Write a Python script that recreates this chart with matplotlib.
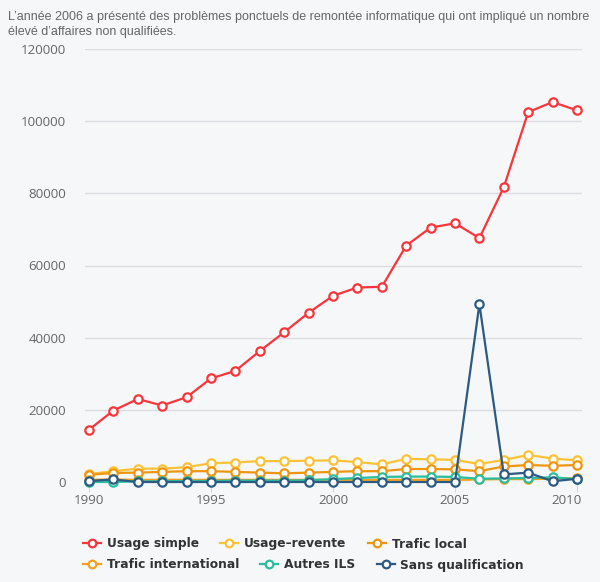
import matplotlib
matplotlib.use("Agg")
import matplotlib.pyplot as plt
from matplotlib.lines import Line2D
from matplotlib.font_manager import FontProperties
import matplotlib.transforms as mtransforms

years = list(range(1990, 2011))
usage_simple = [14500, 19800, 23000, 21200, 23500, 28700, 30800, 36300, 41500, 46900,
                51600, 53900, 54100, 65500, 70500, 71700, 67600, 81700, 102500, 105300, 103000]
usage_revente = [2200, 3000, 3700, 3700, 4100, 5200, 5400, 5800, 5800, 5900,
                 6000, 5500, 4900, 6400, 6300, 6100, 5000, 6100, 7500, 6500, 6000]
trafic_local = [2000, 2500, 2600, 2800, 3000, 3000, 2800, 2600, 2400, 2600,
                2800, 3000, 3000, 3600, 3600, 3500, 3000, 4300, 4700, 4500, 4700]
trafic_international = [600, 700, 600, 600, 600, 600, 600, 600, 600, 600,
                        600, 600, 600, 600, 600, 600, 700, 800, 800, 900, 1000]
autres_ils = [0, 0, 200, 200, 300, 300, 400, 400, 400, 500,
              800, 1100, 1400, 1500, 1500, 1400, 900, 1000, 1100, 1300, 800]
sans_qualification = [300, 700, 0, 0, 0, 0, 0, 0, 0, 0,
                      0, 0, 0, 0, 0, 0, 49300, 2100, 2600, 200, 900]

series_names = ["Usage simple", "Usage\u2013revente", "Trafic local",
                "Trafic international", "Autres ILS", "Sans qualification"]
series_colors = ["#f7353b", "#fcc235", "#ee960f", "#f5a01a", "#2bbd9e", "#2b5a83"]
series_values = [usage_simple, usage_revente, trafic_local,
                 trafic_international, autres_ils, sans_qualification]

title = ("L\u2019année 2006 a présenté des problèmes ponctuels de remontée informatique qui ont impliqué un nombre\n"
         "élevé d\u2019affaires non qualifiées.")
y_ticks = [0, 20000, 40000, 60000, 80000, 100000, 120000]
x_ticks = [1990, 1995, 2000, 2005, 2010]

BG = "#f6f7f9"
W, H = 600, 582
fig = plt.figure(figsize=(W / 100, H / 100), dpi=100, facecolor=BG)
left, right, top, bottom = 85, 582, 49, 482
ax = fig.add_axes([left / W, 1 - bottom / H, (right - left) / W, (bottom - top) / H])
ax.set_facecolor(BG)

ppy = (577 - 89) / 20.0
ax.set_xlim(1990 - (89 - left) / ppy, 2010 + (right - 577) / ppy)
ax.set_ylim(0, 120000)

for name, col, vals in zip(series_names, series_colors, series_values):
    ax.plot(years, vals, color=col, lw=1.6, marker="o", markersize=6.0,
            markerfacecolor="white", markeredgecolor=col, markeredgewidth=1.6,
            clip_on=False, zorder=3, label=name)

for s in ax.spines.values():
    s.set_visible(False)
ax.set_yticks(y_ticks)
ax.set_xticks(x_ticks)
ax.grid(axis="y", color="#dcdde0", lw=1)
ax.set_axisbelow(True)

tickfont = dict(family="Open Sans", size=9.6)
ax.set_yticklabels([str(v) for v in y_ticks], color="#666666", **tickfont)
ax.set_xticklabels([str(v) for v in x_ticks], color="#666666", **tickfont)
ax.tick_params(axis="y", length=0, pad=13.5)
ax.tick_params(axis="x", length=7.5, width=0.8, color="#ccd6eb", pad=1.5)

lab = ax.get_xticklabels()[-1]
lab.set_transform(lab.get_transform() + mtransforms.ScaledTranslation(-10 / 100, 0, fig.dpi_scale_trans))

fig.text(8 / W, 1 - 11 / H, title, ha="left", va="top", color="#666666",
         family="Liberation Sans", fontsize=9.0, linespacing=1.3)

handles = [Line2D([], [], color=c, lw=1.6, marker="o", markersize=5.5,
                  markerfacecolor="white", markeredgecolor=c, markeredgewidth=1.6)
           for c in series_colors]
fs = 8.85
fp = FontProperties(family="DejaVu Sans", weight="bold", size=fs)
fpx = fs * 100 / 72
for i, yc in enumerate([544, 565]):
    leg = fig.legend(handles[3 * i:3 * i + 3], series_names[3 * i:3 * i + 3],
                     loc="center left", bbox_to_anchor=(83 / W, 1 - yc / H),
                     ncol=3, frameon=False, prop=fp, labelcolor="#333333",
                     handlelength=18 / fpx, handletextpad=6 / fpx,
                     columnspacing=21 / fpx, borderpad=0, borderaxespad=0)

fig.savefig("out.png", dpi=100, facecolor=BG)
